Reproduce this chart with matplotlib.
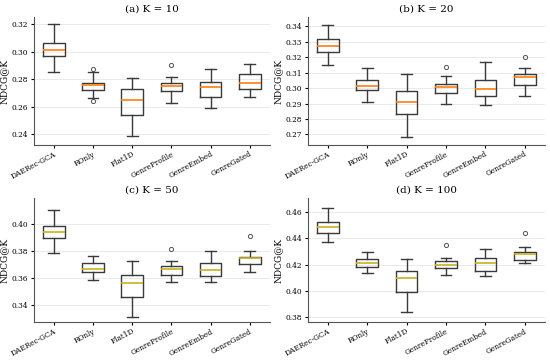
import matplotlib.pyplot as plt

plt.rcParams['font.family'] = ['DejaVu Serif']

models = ["DAERec-GCA", "ROnly", "Flat1D", "GenreProfile", "GenreEmbed", "GenreGated"]
titles = ["(a) K = 10", "(b) K = 20", "(c) K = 50", "(d) K = 100"]

# box stats per panel: whisker low, q1, median, q3, whisker high
k10_lo = [0.285, 0.266, 0.239, 0.2625, 0.259, 0.267]
k10_q1 = [0.297, 0.272, 0.254, 0.271, 0.267, 0.273]
k10_med = [0.301, 0.2755, 0.265, 0.275, 0.274, 0.277]
k10_q3 = [0.306, 0.2775, 0.273, 0.2775, 0.278, 0.2835]
k10_hi = [0.320, 0.285, 0.281, 0.2815, 0.287, 0.291]
k10_fl = [[], [0.287, 0.264], [], [0.290], [], []]

k20_lo = [0.315, 0.291, 0.268, 0.290, 0.289, 0.295]
k20_q1 = [0.3235, 0.299, 0.283, 0.297, 0.295, 0.302]
k20_med = [0.327, 0.3015, 0.291, 0.3005, 0.2995, 0.307]
k20_q3 = [0.3315, 0.305, 0.298, 0.3025, 0.3055, 0.309]
k20_hi = [0.341, 0.313, 0.309, 0.308, 0.317, 0.313]
k20_fl = [[], [], [], [0.3135], [], [0.320]]

k50_lo = [0.378, 0.358, 0.331, 0.357, 0.357, 0.364]
k50_q1 = [0.389, 0.3645, 0.346, 0.362, 0.361, 0.370]
k50_med = [0.3935, 0.3665, 0.356, 0.3665, 0.3655, 0.3745]
k50_q3 = [0.398, 0.3705, 0.362, 0.369, 0.371, 0.3755]
k50_hi = [0.410, 0.376, 0.372, 0.3725, 0.380, 0.380]
k50_fl = [[], [], [], [0.381], [], [0.3905]]

k100_lo = [0.437, 0.4135, 0.384, 0.412, 0.4115, 0.421]
k100_q1 = [0.4445, 0.4185, 0.399, 0.4175, 0.4155, 0.4235]
k100_med = [0.4485, 0.421, 0.4095, 0.420, 0.421, 0.428]
k100_q3 = [0.4525, 0.424, 0.415, 0.423, 0.425, 0.4295]
k100_hi = [0.463, 0.4295, 0.424, 0.425, 0.432, 0.4335]
k100_fl = [[], [], [], [0.435], [], [0.444]]

panels = [
    (k10_lo, k10_q1, k10_med, k10_q3, k10_hi, k10_fl),
    (k20_lo, k20_q1, k20_med, k20_q3, k20_hi, k20_fl),
    (k50_lo, k50_q1, k50_med, k50_q3, k50_hi, k50_fl),
    (k100_lo, k100_q1, k100_med, k100_q3, k100_hi, k100_fl),
]
med_colors = ["#ff7f0e", "#ff7f0e", "#c9b21c", "#c9b21c"]
ylims = [(0.232, 0.325), (0.263, 0.346), (0.327, 0.419), (0.376, 0.471)]
yticks = [[0.24, 0.26, 0.28, 0.30, 0.32],
          [0.27, 0.28, 0.29, 0.30, 0.31, 0.32, 0.33, 0.34],
          [0.34, 0.36, 0.38, 0.40],
          [0.38, 0.40, 0.42, 0.44, 0.46]]

fig = plt.figure(figsize=(5.5, 3.63), dpi=100)
boxes = [[0.062, 0.600, 0.428, 0.353], [0.560, 0.600, 0.430, 0.353],
         [0.062, 0.112, 0.428, 0.343], [0.560, 0.112, 0.430, 0.343]]

for i, (lo, q1, med, q3, hi, fl) in enumerate(panels):
    ax = fig.add_axes(boxes[i])
    stats = []
    for j, name in enumerate(models):
        stats.append(dict(label=name, whislo=lo[j], q1=q1[j], med=med[j],
                          q3=q3[j], whishi=hi[j], fliers=fl[j]))
    ax.bxp(stats, widths=0.55, patch_artist=False,
           boxprops=dict(color="#3a3a3a", linewidth=1.0),
           whiskerprops=dict(color="#3a3a3a", linewidth=1.0),
           capprops=dict(color="#3a3a3a", linewidth=1.0),
           medianprops=dict(color=med_colors[i], linewidth=1.2),
           flierprops=dict(marker="o", markersize=3, markerfacecolor="none",
                           markeredgecolor="#555555", markeredgewidth=0.7))
    ax.set_xlim(0.5, 6.5)
    ax.set_ylim(*ylims[i])
    ax.set_yticks(yticks[i])
    ax.set_yticklabels([f"{t:.2f}" for t in yticks[i]])
    ax.set_title(titles[i], fontsize=7.5, pad=4)
    ax.set_ylabel("NDCG@K", fontsize=6.5, labelpad=2)
    ax.tick_params(axis="y", labelsize=5.3, length=2.5, pad=2)
    ax.tick_params(axis="x", labelsize=5.3, length=2.5, pad=1)
    plt.setp(ax.get_xticklabels(), rotation=28, ha="right", rotation_mode="anchor")
    ax.grid(axis="y", color="#e6e6e6", linewidth=0.6)
    ax.set_axisbelow(True)
    ax.spines["top"].set_visible(False)
    ax.spines["right"].set_visible(False)
    for s in ["left", "bottom"]:
        ax.spines[s].set_color("#555555")
        ax.spines[s].set_linewidth(0.8)

fig.savefig("out.png", dpi=100)
